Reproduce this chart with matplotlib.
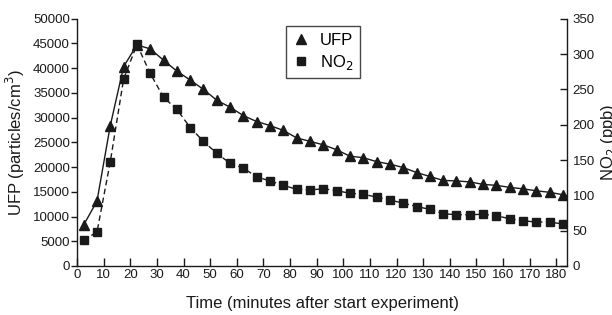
import matplotlib
matplotlib.use("Agg")
import matplotlib.pyplot as plt
from matplotlib.lines import Line2D

plt.rcParams['font.family'] = ['Liberation Sans', 'DejaVu Sans']

time_min = [2.5, 7.5, 12.5, 17.5, 22.5, 27.5, 32.5, 37.5, 42.5, 47.5, 52.5, 57.5,
            62.5, 67.5, 72.5, 77.5, 82.5, 87.5, 92.5, 97.5, 102.5, 107.5, 112.5,
            117.5, 122.5, 127.5, 132.5, 137.5, 142.5, 147.5, 152.5, 157.5, 162.5,
            167.5, 172.5, 177.5, 182.5]
ufp = [8300, 13100, 28400, 40300, 44700, 43900, 41600, 39400, 37600, 35700, 33500,
       32100, 30400, 29200, 28400, 27400, 25900, 25200, 24500, 23500, 22200, 21900,
       21100, 20600, 19900, 18900, 18100, 17300, 17200, 17000, 16500, 16300, 15900,
       15600, 15200, 14900, 14400]
no2 = [36.5, 48, 147.6, 264.5, 313.5, 272.5, 238.7, 221.7, 196, 176.3, 159.5, 145.3,
       138.3, 126.2, 120.3, 114.2, 108.5, 107.6, 109.4, 106.6, 102.9, 101.5, 97.6,
       93.4, 89, 84.2, 80.2, 74, 72.6, 72.6, 73.2, 71.2, 66.8, 64, 62.2, 62.2, 59.4]

x_ticks = list(range(0, 181, 10))
ufp_ticks = list(range(0, 50001, 5000))
no2_ticks = list(range(0, 351, 50))

fig = plt.figure(figsize=(6.12, 3.15), dpi=100)
ax1 = fig.add_axes([77/612, 1-266/315, 490/612, 247.3/315])
ax2 = ax1.twinx()

col = '#1a1a1a'
ax1.plot(time_min, ufp, '-', color=col, lw=1.0, marker='^', ms=6.5, zorder=3)
ax2.plot(time_min, no2, '--', color=col, lw=1.0, marker='s', ms=5.2,
         dashes=(4, 2.5), zorder=3)

ax1.set_xlim(0, 184)
ax1.set_ylim(0, 50000)
ax2.set_ylim(0, 350)
ax1.set_xticks(x_ticks)
ax1.set_yticks(ufp_ticks)
ax2.set_yticks(no2_ticks)

for a in (ax1, ax2):
    a.spines['top'].set_visible(False)
    for s in a.spines.values():
        s.set_linewidth(1.0)
        s.set_color(col)
ax1.spines['right'].set_visible(False)
ax2.spines['left'].set_visible(False)
ax2.spines['bottom'].set_visible(False)

ax1.tick_params(axis='x', direction='in', length=6, width=1, pad=2, labelsize=9.5, colors=col)
ax1.tick_params(axis='y', direction='out', length=4, width=1, pad=1, labelsize=9.5, colors=col)
ax2.tick_params(axis='y', direction='in', length=5, width=1, pad=4, labelsize=9.5, colors=col)

ax1.set_xlabel('Time (minutes after start experiment)', fontsize=12, labelpad=11, color=col)
ax1.set_ylabel('UFP (particles/cm$^3$)', fontsize=12, labelpad=4, color=col)
ax2.set_ylabel('NO$_2$ (ppb)', fontsize=12, labelpad=3, color=col)

handles = [Line2D([], [], ls='none', marker='^', color=col, ms=6.5),
           Line2D([], [], ls='none', marker='s', color=col, ms=5.2)]
leg = ax1.legend(handles, ['UFP', 'NO$_2$'], loc='upper left',
                 bbox_to_anchor=(0.427, 0.97), borderaxespad=0, fontsize=12,
                 frameon=True, fancybox=False, edgecolor=col, handlelength=1.0,
                 handletextpad=0.6, borderpad=0.4, labelspacing=0.3)
leg.get_frame().set_linewidth(1.0)
leg.set_zorder(5)

fig.savefig('out.png', dpi=100)
